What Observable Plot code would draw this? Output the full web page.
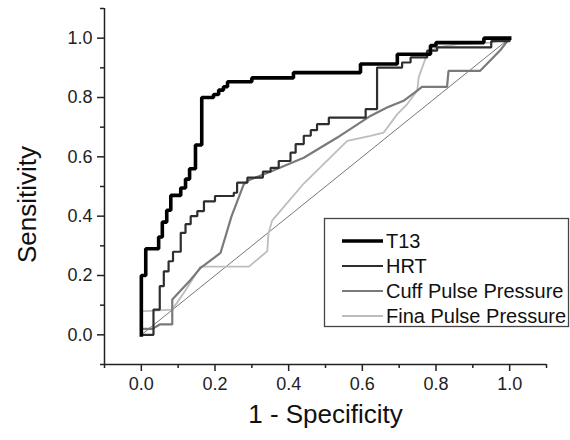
<!DOCTYPE html>
<html><head><meta charset="utf-8">
<script src="https://cdn.jsdelivr.net/npm/d3@7"></script>
<script src="https://cdn.jsdelivr.net/npm/@observablehq/plot@0.6"></script>
<style>
body{margin:0;background:#fff;font-family:Arial,"Liberation Sans",sans-serif}
#chart{position:relative;width:570px;height:440px}
</style>
</head><body><div id="chart"></div>
<script>
// ---- data ----
const seriesNames = ["T13", "HRT", "Cuff Pulse Pressure", "Fina Pulse Pressure"];
const t13 = [[0,0],[0,0.20],[0.012,0.20],[0.012,0.29],[0.047,0.29],[0.047,0.33],[0.057,0.33],[0.057,0.38],[0.069,0.38],[0.069,0.42],[0.08,0.42],[0.08,0.47],[0.107,0.47],[0.107,0.495],[0.12,0.495],[0.12,0.525],[0.131,0.525],[0.131,0.56],[0.147,0.56],[0.147,0.64],[0.164,0.64],[0.164,0.80],[0.196,0.80],[0.196,0.81],[0.21,0.81],[0.21,0.825],[0.223,0.825],[0.223,0.836],[0.234,0.836],[0.234,0.853],[0.30,0.853],[0.30,0.866],[0.413,0.866],[0.413,0.884],[0.595,0.884],[0.595,0.913],[0.695,0.913],[0.695,0.946],[0.785,0.946],[0.785,0.975],[0.80,0.975],[0.80,0.985],[0.93,0.985],[0.93,1.0],[1,1]];
const hrt = [[0,0],[0.033,0],[0.033,0.085],[0.05,0.085],[0.05,0.164],[0.061,0.164],[0.061,0.214],[0.074,0.214],[0.074,0.248],[0.086,0.248],[0.086,0.28],[0.107,0.28],[0.107,0.344],[0.12,0.344],[0.12,0.373],[0.134,0.373],[0.134,0.40],[0.152,0.40],[0.152,0.417],[0.17,0.417],[0.17,0.45],[0.2,0.45],[0.2,0.468],[0.251,0.468],[0.251,0.479],[0.26,0.479],[0.26,0.513],[0.288,0.513],[0.288,0.53],[0.33,0.53],[0.33,0.55],[0.351,0.55],[0.351,0.563],[0.373,0.563],[0.373,0.586],[0.405,0.586],[0.405,0.614],[0.419,0.614],[0.419,0.643],[0.441,0.643],[0.441,0.671],[0.46,0.671],[0.46,0.69],[0.477,0.69],[0.477,0.71],[0.509,0.71],[0.509,0.732],[0.609,0.732],[0.609,0.761],[0.64,0.761],[0.64,0.901],[0.708,0.901],[0.708,0.918],[0.731,0.918],[0.731,0.935],[0.776,0.935],[0.776,0.958],[0.803,0.958],[0.803,0.969],[0.95,0.969],[0.95,0.99],[1,0.99],[1,1]];
const cuff = [[0,0],[0,0.02],[0.03,0.02],[0.05,0.035],[0.084,0.035],[0.084,0.119],[0.134,0.186],[0.161,0.226],[0.215,0.276],[0.245,0.40],[0.278,0.507],[0.29,0.52],[0.35,0.55],[0.441,0.597],[0.532,0.665],[0.622,0.738],[0.667,0.766],[0.712,0.789],[0.749,0.823],[0.762,0.836],[0.83,0.836],[0.834,0.89],[0.92,0.89],[0.975,0.96],[1,1]];
const fina = [[0,0],[0,0.079],[0.084,0.085],[0.12,0.15],[0.161,0.23],[0.292,0.23],[0.342,0.282],[0.345,0.34],[0.355,0.385],[0.441,0.51],[0.559,0.654],[0.622,0.671],[0.658,0.682],[0.695,0.744],[0.722,0.778],[0.749,0.823],[0.753,0.868],[0.776,0.947],[0.803,0.969],[0.86,0.98],[0.95,0.985],[1,1]];
const chance = [[0,0],[1,1]];
const axisDomain = [-0.1, 1.1];
const majorTicks = [0, 0.2, 0.4, 0.6, 0.8, 1.0];
const minorTicks = [-0.1, 0.1, 0.3, 0.5, 0.7, 0.9, 1.1];
const xLabel = "1 - Specificity";
const yLabel = "Sensitivity";

// ---- styles ----
const seriesData = [t13, hrt, cuff, fina];
const seriesColor = ["#000000", "#2e2e2e", "#7a7a7a", "#bdbdbd"];
const seriesWidth = [3.6, 2.2, 2.2, 1.8];
const font = "Arial, 'Liberation Sans', sans-serif";

const rows = seriesNames.map((name, i) => seriesData[i].map(([x, y]) => ({name, x, y})));
const drawOrder = [3, 2, 1, 0];

const chart = Plot.plot({
  width: 570, height: 440,
  marginTop: 8, marginRight: 24, marginBottom: 76, marginLeft: 104,
  style: {fontFamily: font, background: "#fff", color: "#222", overflow: "visible"},
  x: {domain: axisDomain},
  y: {domain: axisDomain},
  marks: [
    Plot.line(chance, {x: d => d[0], y: d => d[1], stroke: "#666", strokeWidth: 0.9}),
    ...drawOrder.map(i => Plot.line(rows[i], {x: "x", y: "y", stroke: seriesColor[i], strokeWidth: seriesWidth[i], strokeLinejoin: "miter", strokeLinecap: "square"})),
    Plot.ruleY([axisDomain[0]], {stroke: "#222", strokeWidth: 1.5}),
    Plot.ruleX([axisDomain[0]], {stroke: "#222", strokeWidth: 1.5}),
    Plot.axisX(majorTicks, {tickSize: 7, tickPadding: 6, tickFormat: d3.format(".1f"), fontSize: 18, label: null, strokeWidth: 1.5}),
    Plot.axisX(minorTicks, {tickSize: 4, tickFormat: () => "", label: null, strokeWidth: 1.5}),
    Plot.axisY(majorTicks, {tickSize: 7, tickPadding: 5, tickFormat: d3.format(".1f"), fontSize: 18, label: null, strokeWidth: 1.5}),
    Plot.axisY(minorTicks, {tickSize: 4, tickFormat: () => "", label: null, strokeWidth: 1.5}),
    Plot.text([xLabel], {text: d => d, frameAnchor: "bottom", textAnchor: "middle", dy: 58, fontSize: 26, fill: "#111"}),
    Plot.text([yLabel], {text: d => d, frameAnchor: "left", textAnchor: "middle", rotate: -90, dx: -77, dy: 18, fontSize: 26, fill: "#111"})
  ]
});
document.getElementById("chart").appendChild(chart);

// ---- legend box (layout in pixels) ----
const svg = d3.select(chart);
const lg = svg.append("g").attr("font-family", font).attr("text-anchor", "start");
lg.append("rect").attr("x", 324.5).attr("y", 218.5).attr("width", 244).attr("height", 108)
  .attr("fill", "#fff").attr("stroke", "#444").attr("stroke-width", 1.3);
seriesNames.forEach((name, i) => {
  const cy = 241 + i * 25;
  lg.append("line").attr("x1", 342).attr("x2", 383).attr("y1", cy).attr("y2", cy)
    .attr("stroke", seriesColor[i]).attr("stroke-width", seriesWidth[i]);
  lg.append("text").attr("x", 386).attr("y", cy).attr("dy", "0.35em")
    .attr("text-anchor", "start")
    .attr("font-size", 20).attr("fill", "#111").text(name);
});
</script>
</body></html>
